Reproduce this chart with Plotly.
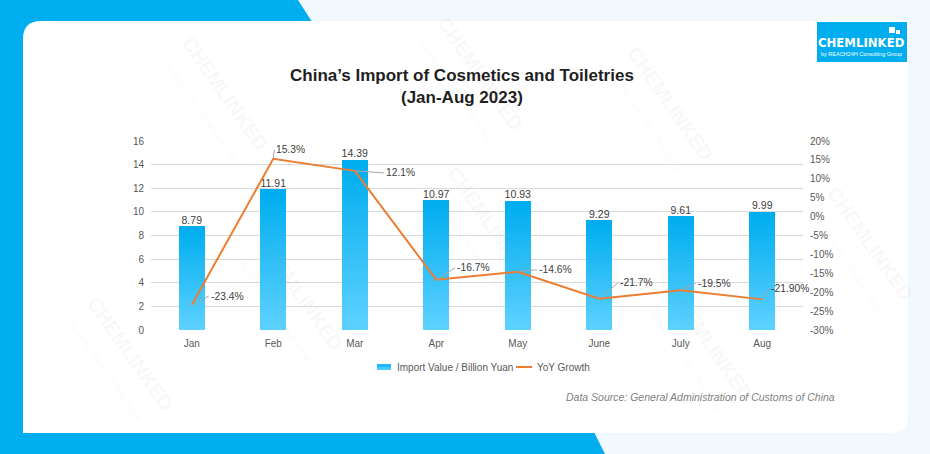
import plotly.graph_objects as go
from plotly.subplots import make_subplots

# ---------------- data ----------------
months = ["Jan", "Feb", "Mar", "Apr", "May", "June", "July", "Aug"]
import_value = [8.79, 11.91, 14.39, 10.97, 10.93, 9.29, 9.61, 9.99]
yoy_growth = [-23.4, 15.3, 12.1, -16.7, -14.6, -21.7, -19.5, -21.9]
yoy_labels = ["-23.4%", "15.3%", "12.1%", "-16.7%", "-14.6%", "-21.7%", "-19.5%", "-21.90%"]
bar_labels = ["8.79", "11.91", "14.39", "10.97", "10.93", "9.29", "9.61", "9.99"]
left_ticks = [0, 2, 4, 6, 8, 10, 12, 14, 16]
right_ticks = [20, 15, 10, 5, 0, -5, -10, -15, -20, -25, -30]
right_tick_text = ["20%", "15%", "10%", "5%", "0%", "-5%", "-10%", "-15%", "-20%", "-25%", "-30%"]
series_names = ["Import Value / Billion Yuan", "YoY Growth"]

# label offsets (pixels) for the YoY data labels
label_dx = [17, 1, 29, 19, 19, 19, 15, 7]
label_dy = [-9, -9, 2, -12, -2, -16, -7, -11]

W, H = 930, 454
L, R, T, B = 151, 803, 141, 330

def fx(x):
    return (x - L) / (R - L)

def fy(y):
    return (B - y) / (B - T)

FONT = "Liberation Sans, Arial, sans-serif"
BLUE = "#00AEEF"
ORANGE = "#ED7D31"

fig = make_subplots(specs=[[{"secondary_y": True}]])

# gradient bars via stacked slices
N = 30
top_c = (0, 173, 239)
bot_c = (92, 209, 255)
for i in range(N):
    t = i / (N - 1)
    c = tuple(round(bot_c[k] + (top_c[k] - bot_c[k]) * t) for k in range(3))
    fig.add_trace(
        go.Bar(
            x=months,
            y=[v / N for v in import_value],
            marker=dict(color="rgb(%d,%d,%d)" % c, line=dict(width=0)),
            name=series_names[0],
            showlegend=False,
            hoverinfo="skip",
        ),
        secondary_y=False,
    )

# bar value labels
fig.add_trace(
    go.Scatter(
        x=months, y=import_value, mode="text", text=bar_labels,
        textposition="top center",
        textfont=dict(family=FONT, size=10.5, color="#404040"),
        showlegend=False, hoverinfo="skip", cliponaxis=False,
    ),
    secondary_y=False,
)

fig.add_trace(
    go.Scatter(
        x=months, y=yoy_growth, mode="lines", name=series_names[1],
        line=dict(color=ORANGE, width=2), showlegend=False,
    ),
    secondary_y=True,
)

annotations = []
for m, v, lab, dx, dy in zip(months, yoy_growth, yoy_labels, label_dx, label_dy):
    annotations.append(dict(
        x=m, y=v, xref="x", yref="y2", text=lab, showarrow=True,
        ax=dx, ay=dy, xanchor="left", yanchor="middle",
        arrowhead=0, arrowwidth=1, arrowcolor="#A6A6A6", standoff=0,
        font=dict(family=FONT, size=10.3, color="#404040"),
    ))

# title
annotations.append(dict(
    x=fx(462), y=fy(86), xref="paper", yref="paper", showarrow=False,
    text="<b>China’s Import of Cosmetics and Toiletries<br>(Jan-Aug 2023)</b>",
    font=dict(family=FONT, size=17, color="#1F1F1F"), align="center",
    xanchor="center", yanchor="middle",
))
# data source
annotations.append(dict(
    x=fx(837), y=fy(397), xref="paper", yref="paper", showarrow=False,
    text="<i>Data Source: General Administration of Customs of China</i>",
    font=dict(family=FONT, size=10.5, color="#7F7F7F"),
    xanchor="right", yanchor="middle",
))
# manual legend texts
annotations.append(dict(
    x=fx(395), y=fy(367), xref="paper", yref="paper", showarrow=False,
    text=series_names[0], font=dict(family=FONT, size=10, color="#595959"),
    xanchor="left", yanchor="middle",
))
annotations.append(dict(
    x=fx(535), y=fy(367), xref="paper", yref="paper", showarrow=False,
    text=series_names[1], font=dict(family=FONT, size=10, color="#595959"),
    xanchor="left", yanchor="middle",
))
# logo text
annotations.append(dict(
    x=fx(861), y=fy(43), xref="paper", yref="paper", showarrow=False,
    text="<b>CHEMLINKED</b>", font=dict(family="Liberation Sans Narrow, DejaVu Sans Condensed, sans-serif", size=13, color="white"),
    xanchor="center", yanchor="middle",
))
annotations.append(dict(
    x=fx(861), y=fy(54), xref="paper", yref="paper", showarrow=False,
    text="by REACH24H Consulting Group", font=dict(family=FONT, size=5.5, color="white"),
    xanchor="center", yanchor="middle",
))

# faint watermarks (kept inside the picture)
wm_pos = [(215, 100), (470, 80), (660, 110), (290, 300), (480, 230), (700, 350), (860, 250), (120, 360)]
for (x, y) in wm_pos:
    annotations.append(dict(
        x=fx(x), y=fy(y), xref="paper", yref="paper", showarrow=False,
        text="<b>CHEMLINKED</b><br><span style='font-size:8px'>by REACH24H Consulting Group</span>",
        textangle=55, font=dict(family=FONT, size=20, color="rgba(150,150,150,0.08)"),
        xanchor="center", yanchor="middle",
    ))

shapes = []
def path(points):
    return "M " + " L ".join("%f,%f" % (fx(x), fy(y)) for x, y in points) + " Z"

# blue background pieces
shapes.append(dict(type="path", xref="paper", yref="paper", layer="below",
                   path=path([(0, 0), (298, 0), (316, 28), (0, 28)]),
                   fillcolor=BLUE, line=dict(width=0)))
shapes.append(dict(type="path", xref="paper", yref="paper", layer="below",
                   path=path([(0, 0), (30, 0), (30, 454), (0, 454)]),
                   fillcolor=BLUE, line=dict(width=0)))
shapes.append(dict(type="path", xref="paper", yref="paper", layer="below",
                   path=path([(0, 428), (592, 428), (605, 454), (0, 454)]),
                   fillcolor=BLUE, line=dict(width=0)))
# white card
r = 18
x0, y0, x1, y1 = 23, 21, 908, 433
card = ("M %f,%f L %f,%f Q %f,%f %f,%f L %f,%f L %f,%f Q %f,%f %f,%f Z" % (
    fx(x0), fy(y1), fx(x0), fy(y0 + r), fx(x0), fy(y0), fx(x0 + r), fy(y0),
    fx(x1), fy(y0), fx(x1), fy(y1 - r), fx(x1), fy(y1), fx(x1 - r), fy(y1)))
shapes.append(dict(type="path", xref="paper", yref="paper", layer="below",
                   path=card, fillcolor="white", line=dict(width=0)))
# logo box
shapes.append(dict(type="rect", xref="paper", yref="paper", layer="above",
                   x0=fx(817), x1=fx(907), y0=fy(22), y1=fy(62),
                   fillcolor=BLUE, line=dict(width=0)))
shapes.append(dict(type="rect", xref="paper", yref="paper", layer="above",
                   x0=fx(889), x1=fx(895), y0=fy(27), y1=fy(33),
                   fillcolor="white", line=dict(width=0)))
shapes.append(dict(type="rect", xref="paper", yref="paper", layer="above",
                   x0=fx(896), x1=fx(900), y0=fy(30), y1=fy(34),
                   fillcolor="white", line=dict(width=0)))
# legend swatches (gradient box and line)
shapes.append(dict(type="rect", xref="paper", yref="paper", layer="above",
                   x0=fx(377), x1=fx(391), y0=fy(364), y1=fy(367),
                   fillcolor="#1BB9F5", line=dict(width=0)))
shapes.append(dict(type="rect", xref="paper", yref="paper", layer="above",
                   x0=fx(377), x1=fx(391), y0=fy(367), y1=fy(370),
                   fillcolor="#4ACBFD", line=dict(width=0)))
shapes.append(dict(type="line", xref="paper", yref="paper", layer="above",
                   x0=fx(516), x1=fx(532), y0=fy(367), y1=fy(367),
                   line=dict(color=ORANGE, width=2)))

fig.update_layout(
    width=W, height=H,
    margin=dict(l=L, r=W - R, t=T, b=H - B, pad=0),
    paper_bgcolor="#F2F9FE", plot_bgcolor="rgba(0,0,0,0)",
    barmode="stack", bargap=0.68,
    font=dict(family=FONT, color="#595959", size=10),
    annotations=annotations, shapes=shapes,
    showlegend=False,
)
fig.update_xaxes(type="category", domain=[0, 1], range=[-0.5, 7.5], showgrid=False,
                 showline=False, ticks="",
                 tickfont=dict(family=FONT, size=10, color="#595959"), ticklabelstandoff=6)
fig.update_yaxes(range=[0, 16], tickvals=left_ticks, showgrid=True, gridcolor="#D9D9D9",
                 gridwidth=1, zeroline=False, showline=False,
                 tickfont=dict(family=FONT, size=10, color="#595959"),
                 ticklabelstandoff=6, secondary_y=False)
fig.update_yaxes(range=[-30, 20], tickvals=right_ticks, ticktext=right_tick_text, showgrid=False,
                 zeroline=False, showline=False,
                 tickfont=dict(family=FONT, size=10, color="#595959"),
                 ticklabelstandoff=6, secondary_y=True)

fig.write_html("out.html")
